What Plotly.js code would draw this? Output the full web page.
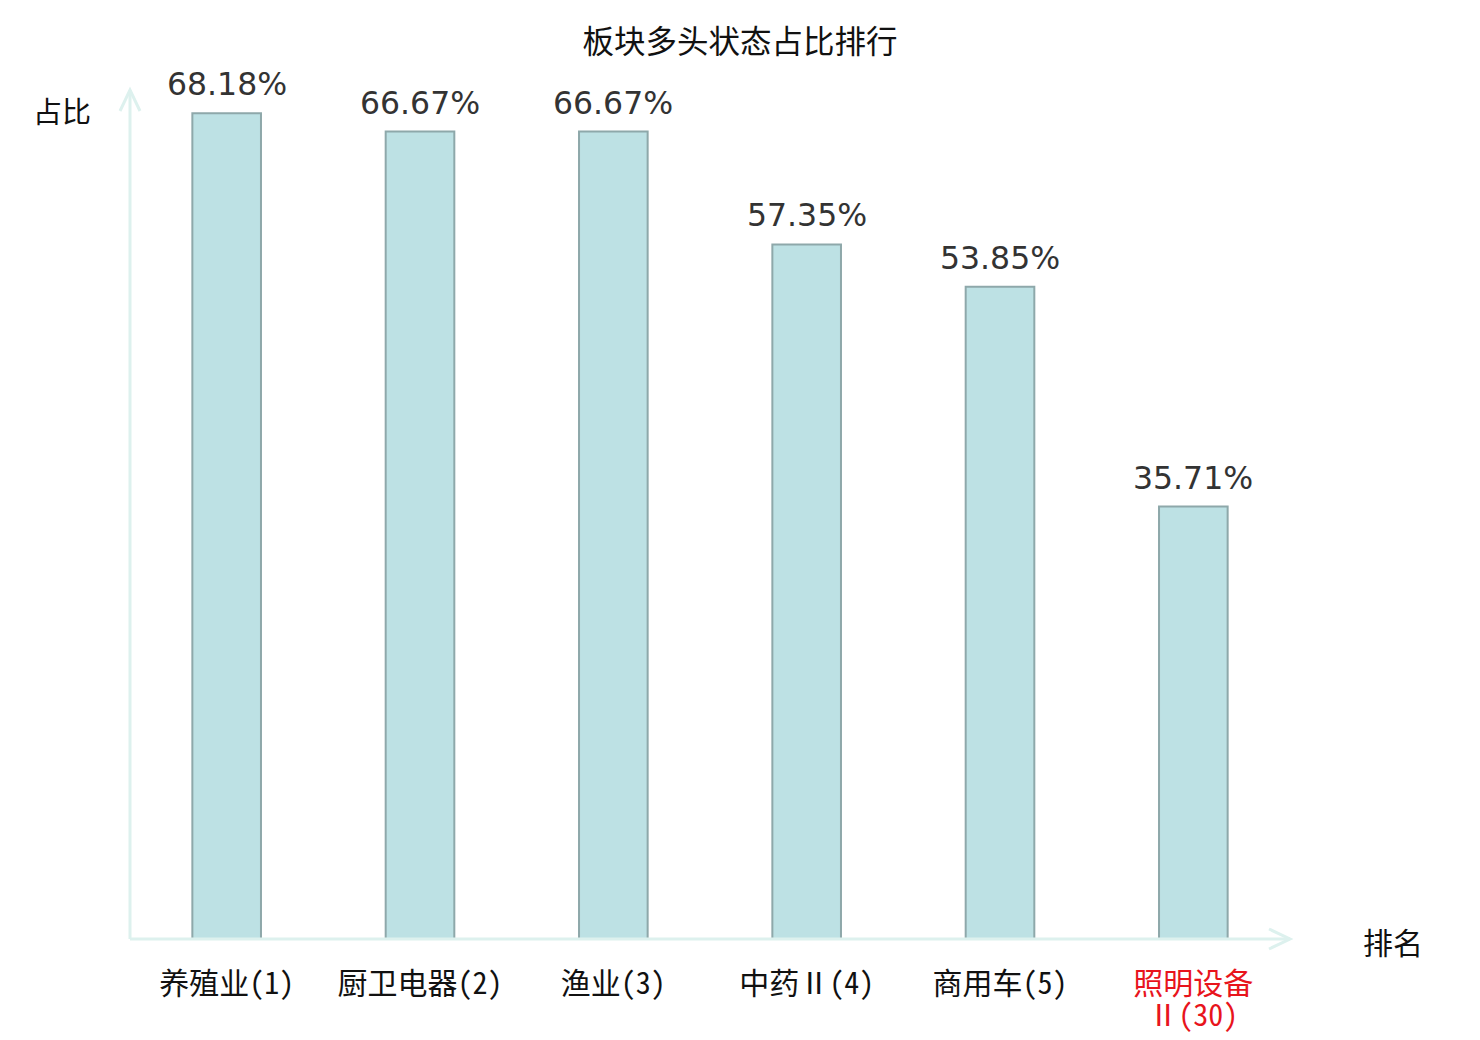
<!DOCTYPE html>
<html>
<head>
<meta charset="utf-8">
<script src="https://cdn.plot.ly/plotly-3.0.1.min.js"></script>
<style>
  body { margin: 0; background: #fff; }
  #chart { width: 1480px; height: 1040px; }
</style>
</head>
<body>
<div id="chart"></div>
<script>
var categories = ['养殖业(1)', '厨卫电器(2)', '渔业(3)', '中药Ⅱ(4)', '商用车(5)', '照明设备Ⅱ(30)'];
var tickLines = [['养殖业(1)'], ['厨卫电器(2)'], ['渔业(3)'], ['中药Ⅱ(4)'], ['商用车(5)'], ['照明设备', 'Ⅱ(30)']];
var tickColors = ['#111111', '#111111', '#111111', '#111111', '#111111', '#e8141c'];
var ratios = [68.18, 66.67, 66.67, 57.35, 53.85, 35.71];

var cjk = '"Noto Sans Mono CJK SC", "Noto Sans CJK SC", sans-serif';
var axisColor = '#ddf1ee';

// tick font is set small so the <br> line gap is tight; the glyphs are enlarged by span
var tickLabels = tickLines.map(function (lines, i) {
  return lines.map(function (s) {
    return '<span style="font-size:30px;fill:' + tickColors[i] + '">' + s + '</span>';
  }).join('<br>');
});

var trace = {
  type: 'bar',
  x: categories,
  y: ratios,
  width: 0.355,
  marker: { color: '#bde1e4', line: { color: '#8ea8aa', width: 2 } },
  hoverinfo: 'none'
};

// value labels above the bars
var labels = ratios.map(function (v, i) {
  return {
    x: categories[i], y: v, xref: 'x', yref: 'y',
    text: v.toFixed(2) + '%', showarrow: false,
    yanchor: 'bottom', yshift: 9,
    font: { family: '"DejaVu Sans", sans-serif', size: 31.5, color: '#333333' }
  };
});

labels.push({
  xref: 'paper', yref: 'paper', x: 0, y: 1, xanchor: 'right', yanchor: 'middle',
  xshift: -37, yshift: -20, text: '占比', showarrow: false,
  font: { family: cjk, size: 29, color: '#111111' }
});
labels.push({
  xref: 'paper', yref: 'paper', x: 1, y: 0, xanchor: 'left', yanchor: 'middle',
  xshift: 71, yshift: -2, text: '排名', showarrow: false,
  font: { family: cjk, size: 30, color: '#111111' }
});

var shapes = [
  { type: 'line', xref: 'paper', yref: 'paper', x0: 0, x1: 0, y0: 0, y1: 1,
    line: { color: axisColor, width: 3 } },
  { type: 'line', xref: 'paper', yref: 'paper', x0: 0, x1: 1, y0: 0, y1: 0,
    line: { color: axisColor, width: 3 } },
  { type: 'path', xref: 'paper', yref: 'paper',
    xsizemode: 'pixel', ysizemode: 'pixel', xanchor: 0, yanchor: 1,
    path: 'M-10,-21 L0,0 L10,-21', line: { color: axisColor, width: 3 } },
  { type: 'path', xref: 'paper', yref: 'paper',
    xsizemode: 'pixel', ysizemode: 'pixel', xanchor: 1, yanchor: 0,
    path: 'M-21,10 L0,0 L-21,-10', line: { color: axisColor, width: 3 } }
];

var layout = {
  width: 1480, height: 1040,
  margin: { l: 130, r: 190, t: 90, b: 101 },
  paper_bgcolor: '#ffffff', plot_bgcolor: '#ffffff',
  showlegend: false,
  title: {
    text: '板块多头状态占比排行',
    x: 0.5, xref: 'container', xanchor: 'center', y: 0.96, yanchor: 'middle',
    font: { family: cjk, size: 31.5, color: '#111111' }
  },
  xaxis: {
    type: 'category', tickvals: categories, ticktext: tickLabels,
    range: [-0.5, 5.5], showline: false, showgrid: false, zeroline: false,
    ticks: '', ticklabelstandoff: 29,
    tickfont: { family: cjk, size: 24.6, color: '#111111' }
  },
  yaxis: {
    range: [0, 70.1], showline: false, showgrid: false, zeroline: false,
    showticklabels: false, ticks: ''
  },
  annotations: labels,
  shapes: shapes
};

Plotly.newPlot('chart', [trace], layout, { staticPlot: true });
</script>
</body>
</html>
